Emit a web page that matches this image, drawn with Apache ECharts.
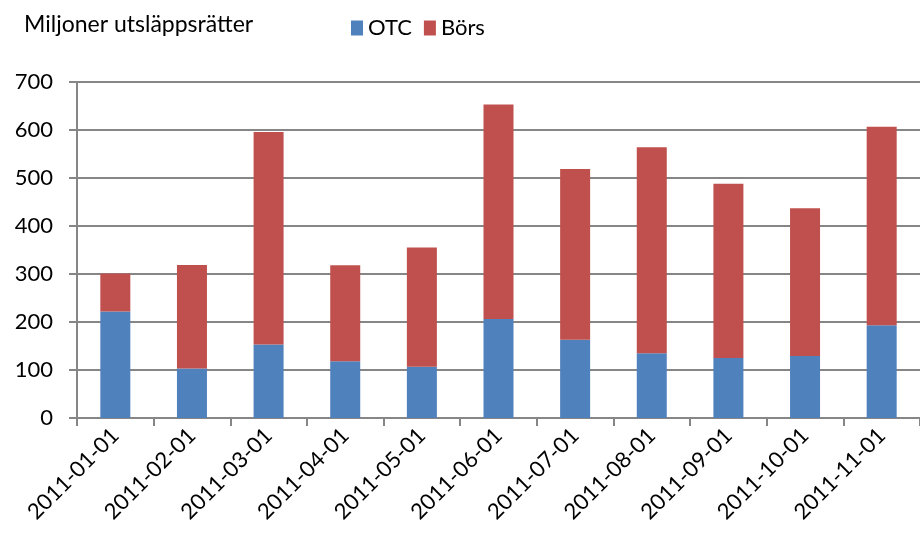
<!DOCTYPE html>
<html>
<head>
<meta charset="utf-8">
<script src="https://cdn.jsdelivr.net/npm/echarts@6/dist/echarts.min.js"></script>
<style>
  html, body { margin: 0; padding: 0; background: #fff; }
  #chart { width: 920px; height: 540px; }
</style>
</head>
<body>
<div id="chart"></div>
<script>
const months = ['2011-01-01', '2011-02-01', '2011-03-01', '2011-04-01', '2011-05-01', '2011-06-01',
  '2011-07-01', '2011-08-01', '2011-09-01', '2011-10-01', '2011-11-01'];
const otc = [222, 103, 153, 118, 107, 206, 163, 135, 125, 129, 193];
const bors = [79, 216, 443, 200, 248, 447, 356, 429, 363, 308, 414];
const yTicks = [0, 100, 200, 300, 400, 500, 600, 700];

const FONT = 'Lato, "Liberation Sans", sans-serif';
const chart = echarts.init(document.getElementById('chart'), null, { renderer: 'canvas' });

chart.setOption({
  animation: false,
  backgroundColor: '#fff',
  textStyle: { fontFamily: FONT, color: '#000' },
  title: {
    text: 'Miljoner utsläppsrätter',
    left: 19,
    top: 8,
    textStyle: { fontFamily: FONT, fontSize: 23, fontWeight: 'normal', color: '#000' },
  },
  legend: {
    left: 346,
    top: 12,
    itemWidth: 12,
    itemHeight: 15,
    itemGap: 12,
    icon: 'rect',
    textStyle: { fontFamily: FONT, fontSize: 22, color: '#000' },
    data: ['OTC', 'Börs'],
  },
  grid: { left: 77, top: 82, width: 847, height: 336 },
  xAxis: {
    type: 'category',
    data: months,
    axisLine: { lineStyle: { color: '#868686', width: 2 } },
    axisTick: { show: true, length: 8, lineStyle: { color: '#868686', width: 2 } },
    axisLabel: { rotate: 45, fontSize: 22, color: '#000', margin: 14, fontFamily: FONT, interval: 0 },
  },
  yAxis: {
    type: 'value',
    min: 0,
    max: 700,
    interval: 100,
    axisLine: { show: true, lineStyle: { color: '#868686', width: 2 } },
    axisTick: { show: true, length: 8, lineStyle: { color: '#868686', width: 2 } },
    axisLabel: {
      fontSize: 22, color: '#000', margin: 24, fontFamily: FONT,
      formatter: (v) => (yTicks.includes(v) ? String(v) : ''),
    },
    splitLine: { lineStyle: { color: '#868686', width: 2 } },
  },
  series: [
    {
      name: 'OTC',
      type: 'bar',
      stack: 'total',
      data: otc,
      barWidth: 30,
      itemStyle: { color: '#4F81BD' },
    },
    {
      name: 'Börs',
      type: 'bar',
      stack: 'total',
      data: bors,
      barWidth: 30,
      itemStyle: { color: '#C0504D' },
    },
  ],
});
</script>
</body>
</html>
